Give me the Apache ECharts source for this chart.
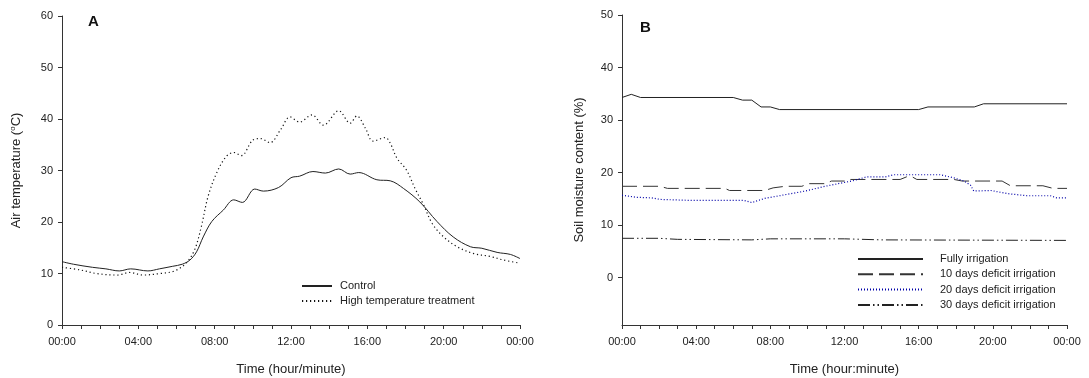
<!DOCTYPE html>
<html>
<head>
<meta charset="utf-8">
<script src="https://cdn.jsdelivr.net/npm/echarts@6/dist/echarts.min.js"></script>
<style>
html,body{margin:0;padding:0;background:#fff;}
#chart{width:1089px;height:378px;}
</style>
</head>
<body>
<div id="chart"></div>
<script>
// ---------- Panel A: air temperature ----------
const hoursControl = [0,0.6,1.6,2.3,3.0,3.6,4.5,5.1,5.8,6.3,6.7,7.05,7.4,7.85,8.45,9.0,9.45,10.1,10.55,11.35,12.0,12.45,13.15,13.8,14.5,15.1,15.55,16.5,17.2,17.9,18.75,19.65,20.5,21.4,22.0,22.8,23.5,24];
const tempControl = [12.3,11.8,11.2,10.9,10.5,10.9,10.5,10.9,11.4,11.8,12.6,14.2,17.1,20.1,22.3,24.3,23.8,26.4,26.0,26.7,28.6,28.9,29.8,29.5,30.3,29.3,29.6,28.2,28.0,26.5,23.9,20.1,17.1,15.2,14.9,14.1,13.7,12.9];
const hoursHigh = [0,0.95,1.8,2.9,3.55,4.25,5.15,5.9,6.5,6.95,7.3,7.65,8.1,8.6,9.0,9.4,10.0,10.4,10.9,11.45,11.95,12.45,13.1,13.7,14.5,15.1,15.45,15.9,16.3,16.95,17.2,17.55,18.05,18.5,18.95,19.4,20.0,20.7,21.55,22.45,23.15,24];
const tempHigh = [11.2,10.7,10.0,9.7,10.2,9.7,10.0,10.5,12.0,14.6,19.1,24.9,29.5,32.7,33.5,32.9,35.9,36.2,35.4,37.9,40.4,39.4,40.8,38.8,41.6,39.2,40.6,38.2,35.7,36.4,35.3,32.4,30.1,26.5,23.3,19.7,17.1,15.2,13.9,13.3,12.6,12.0];
const namesA = ['Control','High temperature treatment'];

// ---------- Panel B: soil moisture ----------
const hoursFully = [0,0.5,1,6,6.5,7,7.5,8,8.5,16,16.5,19,19.5,24];
const smFully = [34.3,34.9,34.3,34.3,33.8,33.8,32.5,32.5,32.0,32.0,32.5,32.5,33.1,33.1];
const hoursDef10 = [0,2.05,2.45,5.55,5.8,7.7,8.15,8.8,9.7,10.05,10.95,11.3,12.0,12.2,15.0,15.35,15.65,15.9,17.9,18.35,20.5,20.95,22.7,23.25,24];
const smDef10 = [17.4,17.4,17.0,17.0,16.6,16.6,17.1,17.4,17.4,17.9,17.9,18.4,18.4,18.7,18.7,19.2,19.2,18.7,18.7,18.4,18.4,17.5,17.5,17.0,17.0];
const hoursDef20 = [0,0.8,1.6,2.05,3.85,6.6,7.0,7.7,8.8,9.9,10.95,11.8,12.4,13.2,14.2,14.65,17.15,17.9,18.45,18.8,18.97,19.9,20.8,21.85,23.1,23.45,24];
const smDef20 = [15.7,15.3,15.2,14.9,14.7,14.7,14.3,15.1,15.8,16.5,17.4,18.0,18.4,19.2,19.2,19.6,19.6,19.0,18.4,17.6,16.5,16.6,16.0,15.6,15.6,15.2,15.2];
const hoursDef30 = [0,2,3,7,8,12,14,24];
const smDef30 = [7.5,7.5,7.3,7.2,7.4,7.4,7.2,7.1];
const namesB = ['Fully irrigation','10 days deficit irrigation','20 days deficit irrigation','30 days deficit irrigation'];
const yTicksB = [0,10,20,30,40,50];

const zip = (xs, ys) => xs.map((x, i) => [x, ys[i]]);
const FONT = '"Liberation Sans", Arial, sans-serif';
const TXT = '#222';
const AX = '#333';

function timeFmt(v){ const h = Math.round(v) % 24; return (h < 10 ? '0' : '') + h + ':00'; }

function xAxis(gridIndex, name){
  return {
    type:'value', gridIndex, min:0, max:24, interval:4,
    name, nameLocation:'middle', nameGap:38,
    nameTextStyle:{fontFamily:FONT, fontSize:13, color:TXT},
    axisLine:{show:true, onZero:false, lineStyle:{color:AX, width:1}},
    axisTick:{show:true, length:4, lineStyle:{color:AX}},
    minorTick:{show:true, splitNumber:4, length:4, lineStyle:{color:AX}},
    splitLine:{show:false}, minorSplitLine:{show:false},
    axisLabel:{formatter:timeFmt, fontFamily:FONT, fontSize:11, color:TXT, margin:11}
  };
}

const legendCommon = {
  orient:'vertical', padding:0, itemHeight:10, selectedMode:false,
  itemStyle:{opacity:0, borderWidth:0}
};

const option = {
  animation:false,
  backgroundColor:'#fff',
  textStyle:{fontFamily:FONT},
  grid:[
    {left:62, top:16, right:569, bottom:53, containLabel:false, outerBoundsMode:'none'},
    {left:622, top:15, right:22, bottom:53, containLabel:false, outerBoundsMode:'none'}
  ],
  xAxis:[ xAxis(0,'Time (hour/minute)'), xAxis(1,'Time (hour:minute)') ],
  yAxis:[
    {
      type:'value', gridIndex:0, min:0, max:60, interval:10,
      name:'Air temperature ({sup|o}C)', nameLocation:'middle', nameGap:38,
      nameTextStyle:{fontFamily:FONT, fontSize:13, color:TXT,
        rich:{sup:{fontFamily:FONT, fontSize:8, color:TXT, padding:[0,0,7,0]}}},
      axisLine:{show:true, onZero:false, lineStyle:{color:AX, width:1}},
      axisTick:{show:true, length:4, lineStyle:{color:AX}},
      splitLine:{show:false},
      axisLabel:{fontFamily:FONT, fontSize:11, color:TXT, margin:9}
    },
    {
      type:'value', gridIndex:1, min:-9, max:50,
      name:'Soil moisture content (%)', nameLocation:'middle', nameGap:36,
      nameTextStyle:{fontFamily:FONT, fontSize:13, color:TXT},
      axisLine:{show:true, onZero:false, lineStyle:{color:AX, width:1}},
      axisTick:{show:true, length:4, lineStyle:{color:AX}, customValues:yTicksB},
      splitLine:{show:false},
      axisLabel:{fontFamily:FONT, fontSize:11, color:TXT, margin:9, customValues:yTicksB}
    }
  ],
  legend:[
    Object.assign({}, legendCommon, {
      data:namesA, left:301, top:280, itemWidth:30, itemGap:3,
      textStyle:{fontFamily:FONT, fontSize:11, color:TXT, lineHeight:12, padding:[0,0,0,3]}
    }),
    Object.assign({}, legendCommon, {
      data:namesB, left:857, top:253, itemWidth:65, itemGap:3.3,
      textStyle:{fontFamily:FONT, fontSize:11, color:TXT, lineHeight:12, padding:[0,0,0,12]}
    })
  ],
  graphic:[
    {type:'text', left:88, top:14, style:{text:'A', font:'bold 15px "Liberation Sans", Arial, sans-serif', fill:'#111'}},
    {type:'text', left:640, top:20, style:{text:'B', font:'bold 15px "Liberation Sans", Arial, sans-serif', fill:'#111'}}
  ],
  series:[
    {name:namesA[0], type:'line', xAxisIndex:0, yAxisIndex:0, data:zip(hoursControl,tempControl),
     symbol:'none', smooth:0.35, lineStyle:{color:'#222', width:1, type:'solid'}, itemStyle:{color:'#222'}},
    {name:namesA[1], type:'line', xAxisIndex:0, yAxisIndex:0, data:zip(hoursHigh,tempHigh),
     symbol:'none', smooth:0.35, lineStyle:{color:'#111', width:1.2, type:[1.2,2.8]}, itemStyle:{color:'#111'}},
    {name:namesB[0], type:'line', xAxisIndex:1, yAxisIndex:1, data:zip(hoursFully,smFully),
     symbol:'none', lineStyle:{color:'#222', width:1, type:'solid'}, itemStyle:{color:'#222'}},
    {name:namesB[1], type:'line', xAxisIndex:1, yAxisIndex:1, data:zip(hoursDef10,smDef10),
     symbol:'none', lineStyle:{color:'#333', width:1, type:[15,6]}, itemStyle:{color:'#333'}},
    {name:namesB[2], type:'line', xAxisIndex:1, yAxisIndex:1, data:zip(hoursDef20,smDef20),
     symbol:'none', lineStyle:{color:'#0000a8', width:1.2, type:[1,2]}, itemStyle:{color:'#0000a8'}},
    {name:namesB[3], type:'line', xAxisIndex:1, yAxisIndex:1, data:zip(hoursDef30,smDef30),
     symbol:'none', lineStyle:{color:'#222', width:1, type:[12,3,1.5,3,1.5,3]}, itemStyle:{color:'#222'}}
  ]
};

const chart = echarts.init(document.getElementById('chart'), null, {renderer:'canvas'});
chart.setOption(option);
</script>
</body>
</html>
